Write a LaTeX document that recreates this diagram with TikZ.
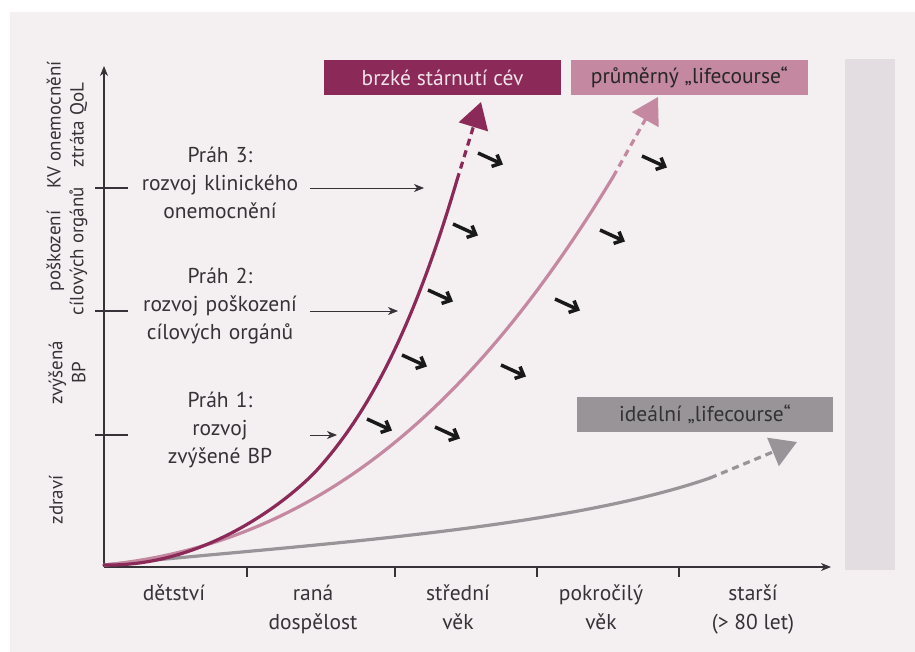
\documentclass[tikz,border=0pt]{standalone}
\usepackage{fontspec}
\setmainfont{PT Sans}
\usetikzlibrary{arrows.meta}
\definecolor{background}{RGB}{244,239,241}
\definecolor{panel}{RGB}{227,221,226}
\definecolor{early}{RGB}{139,42,88}
\definecolor{average}{RGB}{196,137,161}
\definecolor{ideal}{RGB}{152,148,152}
\definecolor{label}{RGB}{55,50,55}
\definecolor{earlytext}{RGB}{242,226,234}

\begin{document}
\begin{tikzpicture}[x=1pt, y=-1pt]
            \tikzstyle{every node} = [text=label, font=\fontsize{21.5}{29}\selectfont]
            \tikzstyle{axis} = [line width=1.2pt, draw=label, -{Stealth[length=10pt, width=8pt, inset=3pt]}]
            \tikzstyle{tick} = [line width=1.2pt, draw=label]
            \tikzstyle{stage} = [rotate=90, align=center, font=\fontsize{19}{23}\selectfont]
            \tikzstyle{threshold} = [align=center, text width=180pt, inner sep=0pt, font=\fontsize{21.5}{28}\selectfont]
            \tikzstyle{pointer} = [line width=0.9pt, draw=label, -{Stealth[length=10pt, width=8pt, inset=3pt]}]
            \tikzstyle{course} = [line width=3.2pt, line cap=round]
            \tikzstyle{forecast} = [line width=3.2pt, dash pattern=on 7pt off 5pt, -{Triangle[length=26pt, width=30pt]}]
            \tikzstyle{push} = [line width=3.5pt, black!90, -{Straight Barb[length=7pt, width=13pt]}]
            \tikzstyle{legend} = [minimum height=35pt, inner sep=0pt]

            \fill[white] (0, 0) rectangle (915, 652);
            \fill[background] (10, 12) rectangle (915, 652);
            \fill[panel] (845, 59.5) rectangle (895, 570);
            \useasboundingbox (0, 0) rectangle (915, 652);

            \draw[axis] (104, 567) -- (104, 66);
            \draw[axis] (104, 567) -- (831, 567);
            \draw[tick] (95, 188) -- (128, 188);
            \draw[tick] (95, 311) -- (128, 311);
            \draw[tick] (95, 435) -- (128, 435);
            \draw[tick] (247, 567) -- (247, 577);
            \draw[tick] (395, 567) -- (395, 577);
            \draw[tick] (537, 567) -- (537, 577);
            \draw[tick] (679, 567) -- (679, 577);

            \node[stage] (health) at (56, 500) {zdraví};
            \node[stage] (pressure) at (67, 373) {zvýšená\\BP};
            \node[stage] (damage) at (67, 251) {poškození\\cílových orgánů};
            \node[stage] (disease) at (67, 125) {KV onemocnění\\ztráta QoL};

            \node[anchor=north, align=center] (childhood) at (174, 581) {dětství};
            \node[anchor=north, align=center] (adulthood) at (313, 581) {raná\\dospělost};
            \node[anchor=north, align=center] (midlife) at (458, 581) {střední\\věk};
            \node[anchor=north, align=center] (lateage) at (601, 581) {pokročilý\\věk};
            \node[anchor=north, align=center] (elderly) at (753, 581) {starší\\(> 80 let)};

            \node[threshold] (prah3) at (220, 183) {Práh 3:\\rozvoj klinického\\onemocnění};
            \node[threshold] (prah2) at (220, 306) {Práh 2:\\rozvoj poškození\\cílových orgánů};
            \node[threshold] (prah1) at (220, 430) {Práh 1:\\rozvoj\\zvýšené BP};
            \coordinate (t3) at (424, 188);
            \coordinate (t2) at (398, 311);
            \coordinate (t1) at (337, 435);
            \draw[pointer] (prah3.east |- t3) -- (t3);
            \draw[pointer] (prah2.east |- t2) -- (t2);
            \draw[pointer] (prah1.east |- t1) -- (t1);

            \coordinate (start) at (104, 565);
            \coordinate (idealend) at (710, 478);
            \coordinate (idealtip) at (797, 442);
            \coordinate (averageend) at (613, 177);
            \coordinate (averagetip) at (658, 97);
            \coordinate (earlymid) at (317, 470);
            \coordinate (earlyend) at (457, 180);
            \coordinate (earlytip) at (481, 102);

            \draw[course, ideal] (start) .. controls (300, 545) and (560, 530) .. (idealend);
            \draw[course, average] (start) .. controls (304, 545) and (463, 424.5) .. (averageend);
            \draw[course, early] (start) .. controls (210, 567) and (295, 494) .. (earlymid)
                .. controls (374.8, 406.4) and (418, 312.6) .. (earlyend);
            \draw[forecast, ideal] (idealend) -- (idealtip);
            \draw[forecast, average] (averageend) -- (averagetip);
            \draw[forecast, early] (earlyend) -- (earlytip);

            \draw[push] (478, 153) -- ++(25, 11.5);
            \draw[push] (453, 224) -- ++(25, 11.5);
            \draw[push] (428, 290) -- ++(25, 11.5);
            \draw[push] (402, 355) -- ++(25, 11.5);
            \draw[push] (367, 419) -- ++(25, 11.5);
            \draw[push] (642, 156) -- ++(25, 11.5);
            \draw[push] (600, 230) -- ++(25, 11.5);
            \draw[push] (555, 299) -- ++(25, 11.5);
            \draw[push] (501, 365) -- ++(25, 11.5);
            \draw[push] (435, 427) -- ++(25, 11.5);

            \node[legend, fill=early, text=earlytext, minimum width=237pt] (earlybox) at (442.5, 77.5) {brzké stárnutí cév};
            \node[legend, fill=average, text=black!85, minimum width=237pt] (averagebox) at (689.5, 77.5) {průměrný „lifecourse“};
            \node[legend, fill=ideal, text=black!80, minimum width=256pt] (idealbox) at (705, 414.5) {ideální „lifecourse“};
\end{tikzpicture}
\end{document}
